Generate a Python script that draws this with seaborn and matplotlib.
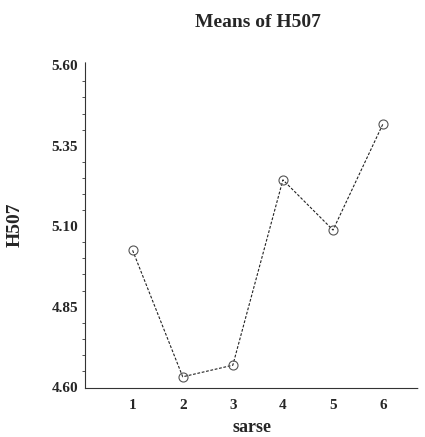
import matplotlib
matplotlib.use("Agg")
import matplotlib.pyplot as plt
import seaborn as sns
import pandas as pd
from matplotlib.ticker import MultipleLocator

sarse = [1, 2, 3, 4, 5, 6]
means = [5.025, 4.632, 4.668, 5.244, 5.088, 5.419]
yticks = [4.60, 4.85, 5.10, 5.35, 5.60]
ytick_labels = ["4.60", "4.85", "5.10", "5.35", "5.60"]

df = pd.DataFrame({"sarse": sarse, "H507": means})

sns.set_style("white")
plt.rcParams["font.family"] = ["Liberation Serif", "DejaVu Serif"]

fig = plt.figure(figsize=(4.25, 4.37), dpi=100)
ax = fig.add_axes([0.2, 0.112, 0.784, 0.746])

sns.lineplot(data=df, x="sarse", y="H507", ax=ax, color="#222222",
             linewidth=0.8, linestyle=(0, (2.5, 1.5)), marker="o", markersize=6.5,
             markerfacecolor="none", markeredgecolor="#555555", markeredgewidth=0.8)

ax.set_xlim(0.05, 6.7)
ax.set_ylim(4.597, 5.61)
ax.set_xticks(sarse)
ax.set_xticklabels([str(s) for s in sarse], fontweight="bold", fontsize=11)
ax.set_yticks(yticks)
ax.set_yticklabels(ytick_labels, fontweight="bold", fontsize=11)
ax.yaxis.set_minor_locator(MultipleLocator(0.05))
ax.tick_params(axis="both", which="major", direction="out", length=3, width=0.8, color="#333333", pad=2)
ax.tick_params(axis="y", which="minor", direction="out", length=2, width=0.6, color="#333333", left=True)
ax.tick_params(axis="x", which="major", pad=5)

for s in ["top", "right"]:
    ax.spines[s].set_visible(False)
for s in ["left", "bottom"]:
    ax.spines[s].set_linestyle((0, (1, 1)))
    ax.spines[s].set_linewidth(0.8)
    ax.spines[s].set_color("#333333")

ax.set_xlabel("sarse", fontweight="bold", fontsize=13, labelpad=5)
ax.set_ylabel("H507", fontweight="bold", fontsize=14, labelpad=20)
fig.text(0.608, 0.948, "Means of H507", ha="center", va="center",
         fontweight="bold", fontsize=14)

fig.savefig("out.png", dpi=100)
